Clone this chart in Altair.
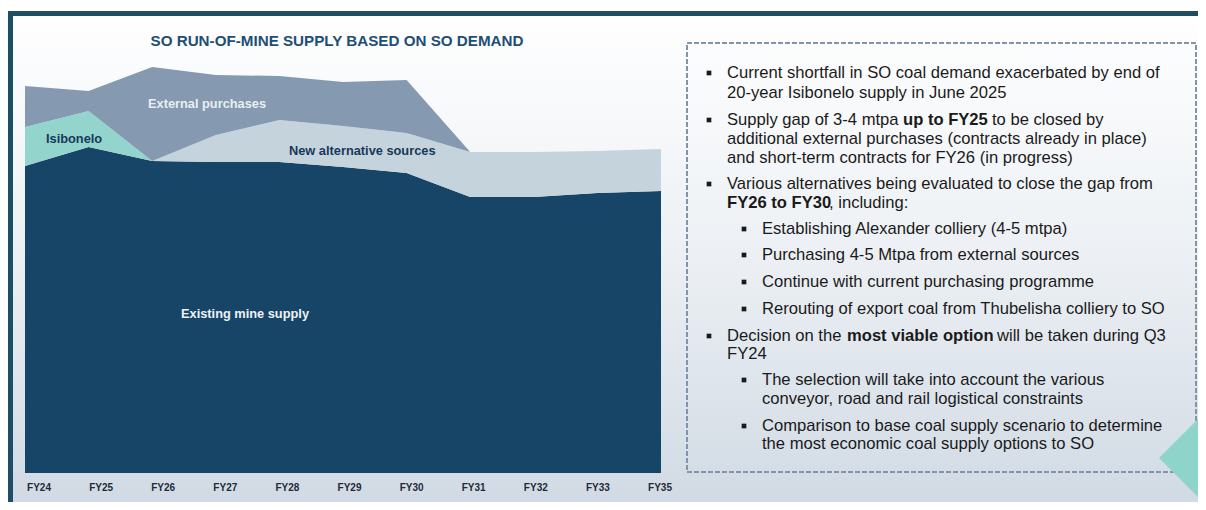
import altair as alt
import pandas as pd

# ---------------- data ----------------
years = ["FY24", "FY25", "FY26", "FY27", "FY28", "FY29", "FY30", "FY31", "FY32", "FY33", "FY35"]
existing_mine = [30.7, 32.6, 31.2, 31.1, 31.1, 30.6, 30.0, 27.6, 27.6, 28.0, 28.2]
isibonelo = [3.9, 3.6, 0, 0, 0, 0, 0, 0, 0, 0, 0]
new_alternative = [0, 0, 0, 2.7, 4.2, 4.1, 4.0, 4.5, 4.5, 4.2, 4.2]
external_purchases = [4.1, 2.0, 9.4, 6.0, 4.4, 4.4, 5.3, 0, 0, 0, 0]

series_names = ["Existing mine supply", "Isibonelo", "New alternative sources", "External purchases"]
series_values = [existing_mine, isibonelo, new_alternative, external_purchases]
series_colors = ["#164567", "#93d5cc", "#c5d3dd", "#8599b0"]

chart_title = "SO RUN-OF-MINE SUPPLY BASED ON SO DEMAND"

rows = []
for i, (name, vals) in enumerate(zip(series_names, series_values)):
    for y, v in zip(years, vals):
        rows.append({"year": y, "series": name, "value": v, "order": i})
df = pd.DataFrame(rows)

W, H = 1190, 494
FONT = "Liberation Sans"
BODY = 16.6


def txt(text, x, y, size=BODY, weight="normal", color="#1a1a1a", align="left", font=FONT):
    return alt.Chart(alt.Data(values=[{}])).mark_text(
        text=text, align=align, baseline="middle", fontSize=size,
        fontWeight=weight, color=color, font=font
    ).encode(x=alt.value(x), y=alt.value(y))


def rect(x, x2, y, y2, **kw):
    return alt.Chart(alt.Data(values=[{}])).mark_rect(**kw).encode(
        x=alt.value(x), x2=alt.value(x2), y=alt.value(y), y2=alt.value(y2)
    )


background = rect(
    0, W, 3, H,
    fill=alt.Gradient(
        gradient="linear",
        stops=[alt.GradientStop(color="#ffffff", offset=0),
               alt.GradientStop(color="#ecf0f4", offset=0.5),
               alt.GradientStop(color="#d1dae4", offset=1)],
        x1=0, x2=0, y1=0, y2=1,
    ),
)
frame_left = rect(-1, 5, 3, H, fill="#1c4e64")
frame_top = rect(-1, W, 3, 8, fill="#1c4e64")

areas = alt.Chart(df).mark_area(interpolate="linear", strokeWidth=0).encode(
    x=alt.X("year:O", sort=years, axis=None,
            scale=alt.Scale(type="point", range=[17, 653], padding=0)),
    y=alt.Y("value:Q", stack="zero", axis=None,
            scale=alt.Scale(domain=[0, 46.5], range=[465, 0], nice=False, zero=True)),
    color=alt.Color("series:N", legend=None,
                    scale=alt.Scale(domain=series_names, range=series_colors)),
    order=alt.Order("order:Q", sort="ascending"),
)

xlabels = alt.Chart(pd.DataFrame({"year": years})).mark_text(
    fontSize=10, fontWeight="bold", color="#1e2b3a", font=FONT, baseline="middle"
).encode(
    x=alt.X("year:O", sort=years, axis=None,
            scale=alt.Scale(type="point", range=[31, 652], padding=0)),
    y=alt.value(480),
    text="year:N",
)

layers = [background, frame_left, frame_top, areas, xlabels]

layers += [
    txt(chart_title, 329, 33, size=15.2, weight="bold", color="#1d4e75", align="center"),
    txt("External purchases", 140, 96, size=12.8, weight="bold", color="#e8eef4"),
    txt("Isibonelo", 38, 131, size=12.8, weight="bold", color="#163a5a"),
    txt("New alternative sources", 281, 143, size=12.8, weight="bold", color="#163a5a"),
    txt("Existing mine supply", 173, 306, size=12.8, weight="bold", color="#eef2f6"),
]

# dashed text box
layers.append(rect(679, 1188, 35, 464, fill=None, filled=False, stroke="#8294a8",
                   strokeWidth=2, strokeDash=[5, 2]))

B1, T1, B2, T2 = 701, 719, 736, 754
o = 8
bullets = [
    (B1, 73), (B1, 120), (B1, 184), (B2, 229), (B2, 255), (B2, 282), (B2, 309),
    (B1, 336), (B2, 380), (B2, 426),
]
for bx, by in bullets:
    layers.append(
        alt.Chart(alt.Data(values=[{}])).mark_square(
            size=22, filled=True, color="#1a1a1a", opacity=1
        ).encode(x=alt.value(bx), y=alt.value(by - o))
    )

lines = [
    ("Current shortfall in SO coal demand exacerbated by end of", T1, 73, "normal"),
    ("20-year Isibonelo supply in June 2025", T1, 93, "normal"),
    ("Supply gap of 3-4 mtpa", T1, 120, "normal"),
    ("up to FY25", 895, 120, "bold"),
    ("to be closed by", 984, 120, "normal"),
    ("additional external purchases (contracts already in place)", T1, 139, "normal"),
    ("and short-term contracts for FY26 (in progress)", T1, 158, "normal"),
    ("Various alternatives being evaluated to close the gap from", T1, 184, "normal"),
    ("FY26 to FY30", T1, 203, "bold"),
    (", including:", 821, 203, "normal"),
    ("Establishing Alexander colliery (4-5 mtpa)", T2, 229, "normal"),
    ("Purchasing 4-5 Mtpa from external sources", T2, 255, "normal"),
    ("Continue with current purchasing programme", T2, 282, "normal"),
    ("Rerouting of export coal from Thubelisha colliery to SO", T2, 309, "normal"),
    ("Decision on the", T1, 336, "normal"),
    ("most viable option", 839, 336, "bold"),
    ("will be taken during Q3", 989, 336, "normal"),
    ("FY24", T1, 354, "normal"),
    ("The selection will take into account the various", T2, 380, "normal"),
    ("conveyor, road and rail logistical constraints", T2, 399, "normal"),
    ("Comparison to base coal supply scenario to determine", T2, 426, "normal"),
    ("the most economic coal supply options to SO", T2, 444, "normal"),
]
for t, x, y, w in lines:
    layers.append(txt(t, x, y - o, weight=w))

# decorative teal diamond
layers.append(
    alt.Chart(alt.Data(values=[{}])).mark_point(
        shape="diamond", size=16900, filled=True, fill="#8fd4ca", opacity=1, strokeWidth=0
    ).encode(x=alt.value(1216), y=alt.value(450))
)

chart = alt.layer(*layers).resolve_scale(x="independent").properties(
    width=W, height=H, padding=0,
    autosize=alt.AutoSizeParams(type="none"),
).configure_view(stroke=None)

chart.save("out.html", embed_options={"renderer": "svg", "actions": False})
